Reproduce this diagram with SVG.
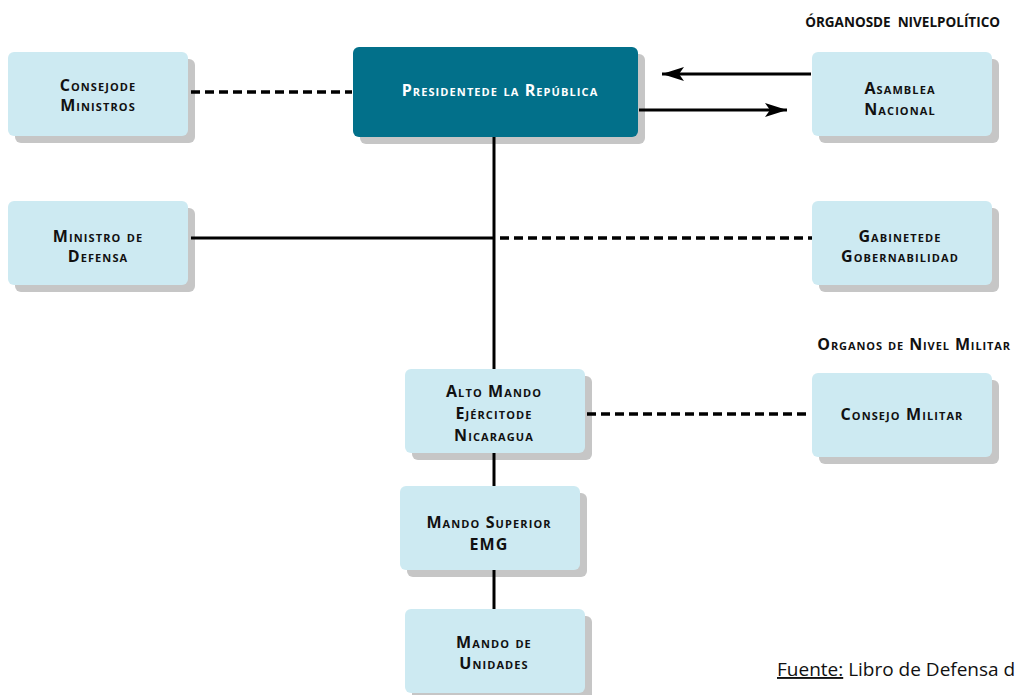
<svg xmlns="http://www.w3.org/2000/svg" width="1018" height="695" viewBox="0 0 1018 695">
<style>
.sh{fill:#c6c6c6}
.bx{fill:#cdeaf2}
.dk{fill:#02708a}
.t{font-family:"Open Sans","Liberation Sans",sans-serif;font-weight:700;font-size:16px;letter-spacing:1.1px;font-variant:small-caps;fill:#111;text-anchor:middle}
.tw{fill:#fff}
.ln{stroke:#000;stroke-width:3;fill:none}
.ds{stroke:#000;stroke-width:3.5;fill:none;stroke-dasharray:9 5}
.hd{font-family:"Open Sans","Liberation Sans",sans-serif;font-weight:700;fill:#111;text-anchor:end}
</style>
<defs>
<marker id="a2" viewBox="0 0 22 14" refX="22" refY="7" markerWidth="22" markerHeight="14" markerUnits="userSpaceOnUse" orient="auto">
<path d="M0,0 L22,7 L0,14 L5,7 z" fill="#000"/>
</marker>
</defs>
<g id="consejo-ministros">
<rect class="sh" x="15" y="59" width="180" height="84" rx="6"/>
<rect class="bx" x="8" y="52" width="180" height="84" rx="6"/>
<text class="t" x="98" y="91">Consejode</text>
<text class="t" x="98" y="111">Ministros</text>
</g>
<g id="presidente">
<rect class="sh" x="360" y="54" width="285" height="90" rx="6"/>
<rect class="dk" x="353" y="47" width="285" height="90" rx="6"/>
<text class="t tw" x="500" y="96">Presidentede la República</text>
</g>
<g id="asamblea">
<rect class="sh" x="819" y="59" width="180" height="84" rx="6"/>
<rect class="bx" x="812" y="52" width="180" height="84" rx="6"/>
<text class="t" x="900" y="94">Asamblea</text>
<text class="t" x="900" y="115">Nacional</text>
</g>
<g id="ministro-defensa">
<rect class="sh" x="15" y="208" width="180" height="84" rx="6"/>
<rect class="bx" x="8" y="201" width="180" height="84" rx="6"/>
<text class="t" x="98" y="242">Ministro de</text>
<text class="t" x="98" y="262">Defensa</text>
</g>
<g id="gabinete">
<rect class="sh" x="819" y="208" width="180" height="84" rx="6"/>
<rect class="bx" x="812" y="201" width="180" height="84" rx="6"/>
<text class="t" x="900" y="242">Gabinetede</text>
<text class="t" x="900" y="262">Gobernabilidad</text>
</g>
<g id="alto-mando">
<rect class="sh" x="412" y="376" width="180" height="84" rx="6"/>
<rect class="bx" x="405" y="369" width="180" height="84" rx="6"/>
<text class="t" x="494" y="397">Alto Mando</text>
<text class="t" x="494" y="419">Ejércitode</text>
<text class="t" x="494" y="441">Nicaragua</text>
</g>
<g id="consejo-militar">
<rect class="sh" x="819" y="380" width="180" height="84" rx="6"/>
<rect class="bx" x="812" y="373" width="180" height="84" rx="6"/>
<text class="t" x="902" y="420">Consejo Militar</text>
</g>
<g id="mando-superior">
<rect class="sh" x="407" y="493" width="180" height="84" rx="6"/>
<rect class="bx" x="400" y="486" width="180" height="84" rx="6"/>
<text class="t" x="489" y="528">Mando Superior</text>
<text class="t" x="489" y="550">EMG</text>
</g>
<g id="mando-unidades">
<rect class="sh" x="412" y="616" width="180" height="84" rx="6"/>
<rect class="bx" x="405" y="609" width="180" height="84" rx="6"/>
<text class="t" x="494" y="648">Mando de</text>
<text class="t" x="494" y="669">Unidades</text>
</g>
<g id="connectors">
<line class="ds" x1="191" y1="92" x2="352" y2="92"/>
<line class="ln" x1="811" y1="74" x2="662" y2="74" marker-end="url(#a2)"/>
<line class="ln" x1="639" y1="110" x2="787" y2="110" marker-end="url(#a2)"/>
<line class="ln" x1="494" y1="137" x2="494" y2="369" stroke-width="2.5"/>
<line class="ln" x1="191" y1="238" x2="494" y2="238"/>
<line class="ds" x1="500" y1="238" x2="812" y2="238"/>
<line class="ln" x1="494" y1="453" x2="494" y2="486" stroke-width="2.5"/>
<line class="ln" x1="494" y1="570" x2="494" y2="609" stroke-width="2.5"/>
<line class="ds" x1="587" y1="414" x2="810" y2="414"/>
</g>
<text class="hd" x="1000" y="27" font-size="13.5">ÓRGANOSDE&#160; NIVELPOLÍTICO</text>
<text class="hd" x="1011" y="350" font-size="16" style="font-variant:small-caps;letter-spacing:0.9px">Organos de Nivel Militar</text>
<text x="777" y="676" font-family="Open Sans, Liberation Sans, sans-serif" font-size="19" fill="#111"><tspan text-decoration="underline">Fuente:</tspan> Libro de Defensa d</text>
</svg>
